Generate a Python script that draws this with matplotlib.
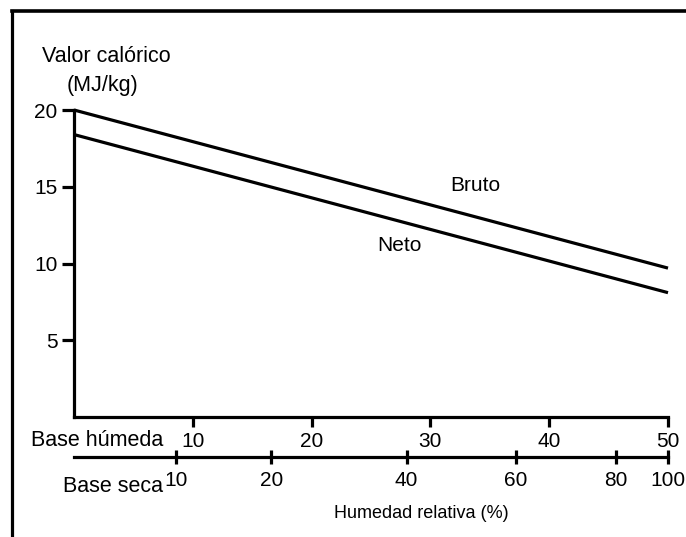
import matplotlib
matplotlib.use("Agg")
import matplotlib.pyplot as plt
from matplotlib.lines import Line2D
from matplotlib import font_manager

# ---- data ----
humedad_base_humeda = [0, 50]
bruto = [20.0, 9.7]
neto = [18.4, 8.1]
y_ticks = [5, 10, 15, 20]
x_ticks_humeda = [10, 20, 30, 40, 50]
base_seca_labels = ["10", "20", "40", "60", "80", "100"]
base_seca_pos = [8.6, 16.6, 28.0, 37.2, 45.6, 50.0]  # positions on wet-basis scale

W, H = 686, 537
DPI = 100
names = {f.name for f in font_manager.fontManager.ttflist}
FONT = "Liberation Sans" if "Liberation Sans" in names else "DejaVu Sans"
NARROW = "Liberation Sans Narrow" if "Liberation Sans Narrow" in names else FONT
plt.rcParams["font.family"] = [FONT, "DejaVu Sans"]

fig = plt.figure(figsize=(W / DPI, H / DPI), dpi=DPI)

def fx(px):
    return px / W

def fy(py):
    return 1 - py / H

# axes in pixel coordinates: x 74..668, y 110..417
ax = fig.add_axes([fx(74), fy(417), fx(668) - fx(74), fy(110) - fy(417)])
ax.set_xlim(0, 50)
ax.set_ylim(0, 20)

LW = 2.3
ax.plot(humedad_base_humeda, bruto, color="black", lw=LW, solid_capstyle="butt", clip_on=False)
ax.plot(humedad_base_humeda, neto, color="black", lw=LW, solid_capstyle="butt", clip_on=False)

for s in ["top", "right"]:
    ax.spines[s].set_visible(False)
for s in ["left", "bottom"]:
    ax.spines[s].set_linewidth(LW)
    ax.spines[s].set_capstyle("projecting")

ax.set_yticks(y_ticks)
ax.set_yticklabels([str(v) for v in y_ticks])
ax.set_xticks(x_ticks_humeda)
ax.set_xticklabels([str(v) for v in x_ticks_humeda])
ax.tick_params(axis="y", direction="out", length=8.5, width=LW, pad=3.5, labelsize=15)
ax.tick_params(axis="x", direction="out", length=7, width=LW, pad=4.0, labelsize=15)

# base seca axis
sec = ax.secondary_xaxis((417 - 457) / (417 - 110))
sec.set_xticks(base_seca_pos)
sec.set_xticklabels(base_seca_labels)
sec.spines["bottom"].set_linewidth(LW)
sec.tick_params(axis="x", direction="inout", length=9.5, width=LW, pad=5.5, labelsize=15)
for lbl in sec.get_xticklabels():
    lbl.set_x(lbl.get_position()[0])

ax.text(33.8, 15.1, "Bruto", ha="center", va="center", fontsize=15)
ax.text(27.4, 11.2, "Neto", ha="center", va="center", fontsize=15)

fig.text(fx(106), fy(56), "Valor calórico", ha="center", va="center", fontsize=15.5)
fig.text(fx(103), fy(86), "(MJ/kg)", ha="center", va="center", fontsize=15.5)
fig.text(fx(163), fy(440), "Base húmeda", ha="right", va="center", fontsize=15.5)
fig.text(fx(163), fy(487), "Base seca", ha="right", va="center", fontsize=15.5)
fig.text(fx(421), fy(513), "Humedad relativa (%)", ha="center", va="center",
         fontsize=15.5 if NARROW != FONT else 13, family=[NARROW, "DejaVu Sans"])

# frame
fig.add_artist(Line2D([fx(12), 1.0], [fy(11), fy(11)], color="black", lw=2.6,
                      transform=fig.transFigure, solid_capstyle="projecting"))
fig.add_artist(Line2D([fx(12), fx(12)], [fy(11), 0.0], color="black", lw=2.3,
                      transform=fig.transFigure, solid_capstyle="projecting"))

fig.savefig("out.png", dpi=DPI)
